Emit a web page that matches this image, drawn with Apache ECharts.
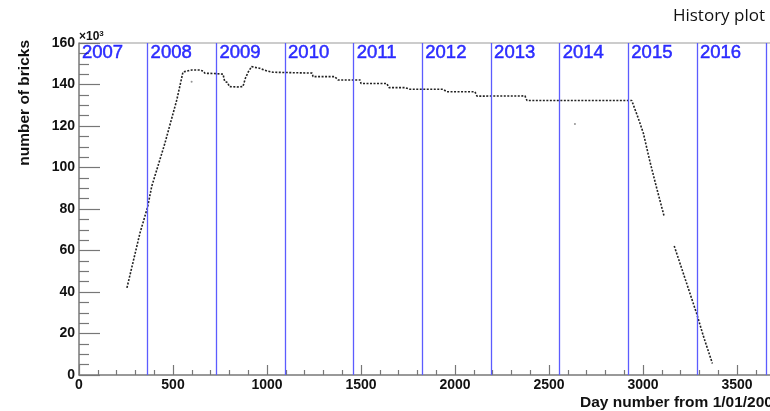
<!DOCTYPE html>
<html>
<head>
<meta charset="utf-8">
<script src="https://cdn.jsdelivr.net/npm/echarts@6/dist/echarts.min.js"></script>
<style>
  html, body { margin: 0; padding: 0; background: #fff; }
  #chart { width: 770px; height: 411px; }
</style>
</head>
<body>
<div id="chart"></div>
<script>
// Day number since 1/01/2007 and number of bricks (x10^3)
var curveDays = [255, 324, 365, 387, 404, 457, 520, 553, 560, 600, 638, 660, 670, 720, 766, 775, 790, 800, 840, 872, 885, 900, 918, 960, 1000, 1032, 1240, 1245, 1360, 1378, 1495, 1500, 1637, 1649, 1734, 1760, 1936, 1957, 2106, 2117, 2372, 2383, 2940, 2948, 2975, 3002, 3037, 3073, 3113, null, 3166, 3232, 3285, 3322, 3369];
var curveBricks = [42, 68.3, 81, 91, 96, 111.7, 132.5, 146, 146.8, 147, 147, 146.5, 145.4, 145.3, 145, 141.5, 141, 139, 138.8, 139, 143, 146, 148.6, 147.8, 146.5, 145.9, 145.5, 143.8, 143.8, 142.2, 142.2, 140.5, 140.5, 138.5, 138.5, 137.7, 137.7, 136.5, 136.5, 134.4, 134.5, 132.3, 132.3, 132, 123.7, 116.5, 102.8, 90, 76.3, null, 62.2, 44.2, 29.7, 18.5, 5.6];
var strayDays = [599, 2638];
var strayBricks = [141.3, 121];
var yearStartDays = [0, 365, 731, 1096, 1461, 1826, 2192, 2557, 2922, 3287];
var yearLineDays = [365, 731, 1096, 1461, 1826, 2192, 2557, 2922, 3287, 3653];
var yearLabels = ['2007', '2008', '2009', '2010', '2011', '2012', '2013', '2014', '2015', '2016'];
var xTickLabels = ['0', '500', '1000', '1500', '2000', '2500', '3000', '3500'];
var yTickLabels = ['0', '20', '40', '60', '80', '100', '120', '140', '160'];

var curveData = curveDays.map(function (d, i) {
  return d === null ? [null, null] : [d, curveBricks[i]];
});
var strayData = strayDays.map(function (d, i) { return [d, strayBricks[i]]; });
var yearLabelData = yearStartDays.map(function (d, i) { return { value: [d, 155], name: yearLabels[i] }; });
var yearLineData = yearLineDays.map(function (d) { return { xAxis: d }; });

var chart = echarts.init(document.getElementById('chart'), null, { renderer: 'canvas' });
var tickFont = { fontFamily: 'Liberation Sans', fontWeight: 'bold', fontSize: 14, color: '#111' };

chart.setOption({
  animation: false,
  backgroundColor: '#fff',
  grid: {
    left: 79, top: 43, width: 695.6, height: 332,
    show: true, borderColor: '#999', borderWidth: 1,
    containLabel: false, outerBoundsMode: 'none'
  },
  xAxis: {
    type: 'value', min: 0, max: 3700, interval: 500,
    axisLine: { show: true, onZero: false, lineStyle: { color: '#888', width: 1.5 } },
    axisTick: { show: true, inside: true, length: 10, lineStyle: { color: '#777', width: 1.2 } },
    minorTick: { show: true, splitNumber: 5, length: 5, lineStyle: { color: '#777', width: 1.2 } },
    splitLine: { show: false },
    axisLabel: Object.assign({ margin: 3, showMaxLabel: false,
      formatter: function (v) { var s = String(v); return xTickLabels.indexOf(s) >= 0 ? s : ''; } }, tickFont)
  },
  yAxis: {
    type: 'value', min: 0, max: 160, interval: 20,
    axisLine: { show: true, onZero: false, lineStyle: { color: '#888', width: 1.5 } },
    axisTick: { show: true, inside: true, length: 21, lineStyle: { color: '#777', width: 1.2 } },
    minorTick: { show: true, splitNumber: 4, length: 10, lineStyle: { color: '#777', width: 1.2 } },
    splitLine: { show: false },
    axisLabel: Object.assign({ margin: 4,
      formatter: function (v) { var s = String(v); return yTickLabels.indexOf(s) >= 0 ? s : ''; } }, tickFont)
  },
  series: [
    {
      type: 'line',
      data: curveData,
      showSymbol: false,
      connectNulls: false,
      lineStyle: { color: '#222', width: 1.6, type: [2, 1.5] },
      markLine: {
        silent: true,
        symbol: ['none', 'none'],
        label: { show: false },
        lineStyle: { color: '#5c5cff', width: 1.3, type: 'solid' },
        data: yearLineData
      },
      z: 3
    },
    {
      type: 'scatter',
      data: strayData,
      symbolSize: 2,
      itemStyle: { color: '#777' }
    },
    {
      type: 'scatter',
      data: yearLabelData,
      symbolSize: 0,
      silent: true,
      label: {
        show: true, position: 'right', distance: 3,
        formatter: function (p) { return p.name; },
        fontFamily: 'Liberation Sans', fontWeight: 'normal', fontSize: 18.5, color: '#0000ff',
        textBorderColor: '#0000ff', textBorderWidth: 0.5
      }
    }
  ],
  graphic: [
    {
      type: 'text', right: 5, top: 8,
      style: { text: 'History plot', fontFamily: 'Open Sans', fontSize: 17, fill: '#111' }
    },
    {
      type: 'text', x: 79, y: 30,
      style: {
        text: '{a|×10}{b|3}', fill: '#111',
        rich: {
          a: { fontFamily: 'Liberation Sans', fontWeight: 'bold', fontSize: 12, fill: '#111' },
          b: { fontFamily: 'Liberation Sans', fontWeight: 'bold', fontSize: 8, fill: '#111', verticalAlign: 'top', padding: [0, 0, 6, 0] }
        }
      }
    },
    {
      type: 'text', x: 25, y: 40, rotation: Math.PI / 2,
      style: {
        text: 'number of bricks', fontFamily: 'Liberation Sans', fontWeight: 'bold', fontSize: 15.5,
        fill: '#111', align: 'right', verticalAlign: 'middle'
      }
    },
    {
      type: 'text', x: 580, y: 403,
      style: {
        text: 'Day number from 1/01/2007', fontFamily: 'Liberation Sans', fontWeight: 'bold', fontSize: 15.5,
        fill: '#111', align: 'left', verticalAlign: 'middle'
      }
    }
  ]
});
</script>
</body>
</html>
